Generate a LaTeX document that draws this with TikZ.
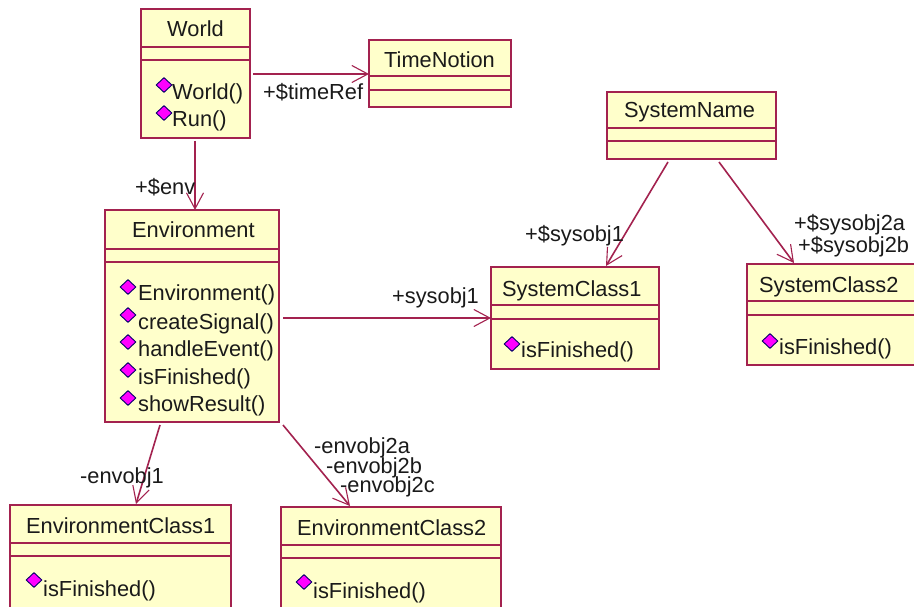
\documentclass[tikz,border=0pt]{standalone}
\usepackage{fontspec}
\setmainfont{Liberation Sans}
\usetikzlibrary{arrows.meta,shapes.geometric}
\definecolor{umlline}{HTML}{A3224F}
\definecolor{umlfill}{HTML}{FFFFCB}
\definecolor{umltext}{HTML}{1A1A1A}
\definecolor{umlicon}{HTML}{FF00FF}
\tikzset{
  umlbox/.style={draw=umlline,fill=umlfill,line width=1.9pt,rectangle,inner sep=0pt,outer sep=0pt,anchor=north west},
  divider/.style={draw=umlline,line width=1.9pt},
  assoc/.style={draw=umlline,line width=1.6pt,-{Straight Barb[length=16pt,width=17pt,line width=1.1pt]}},
  txt/.style={font=\fontsize{21.8}{24}\selectfont,text=umltext,inner sep=0pt,anchor=base west},
  method/.style={diamond,fill=umlicon,draw=black!60!blue,line width=.9pt,inner sep=0pt,minimum width=16pt,minimum height=15pt},
}
% name, x1, y1, x2, y2, divider1, divider2
\newcommand{\classbox}[7]{%
  \pgfmathsetmacro{\bw}{#4-#2}\pgfmathsetmacro{\bh}{#5-#3}%
  \node[umlbox,minimum width=\bw pt,minimum height=\bh pt] (#1) at (#2,#3) {};
  \draw[divider] (#2,#6) -- (#4,#6);
  \draw[divider] (#2,#7) -- (#4,#7);
}
\begin{document}
\begin{tikzpicture}[x=1pt,y=-1pt]
\path[use as bounding box,clip] (0,0) rectangle (914,607);
\fill[white] (0,0) rectangle (914,607);

\classbox{world}{141}{9}{250}{138}{47}{60}
\classbox{time}{369}{40}{511}{107}{76}{90}
\classbox{sysname}{607}{92}{776}{159}{128}{141}
\classbox{env}{105}{210}{279}{422}{249}{262}
\classbox{sc1}{491}{267}{659}{369}{305}{319}
\classbox{sc2}{747}{264}{925}{365}{301}{315}
\classbox{ec1}{10}{505}{231}{625}{543}{556}
\classbox{ec2}{281}{507}{501}{625}{545}{558}

% titles
\node[txt] (tworld) at (167,37) {World};
\node[txt] (ttime) at (384,68) {TimeNotion};
\node[txt] (tsys) at (624,118) {SystemName};
\node[txt] (tenv) at (132,238) {Environment};
\node[txt] (tsc1) at (502,296) {SystemClass1};
\node[txt] (tsc2) at (759,292) {SystemClass2};
\node[txt] (tec1) at (26,533) {EnvironmentClass1};
\node[txt] (tec2) at (297,535) {EnvironmentClass2};

% methods
\node[method] (d1) at (164,85) {};  \node[txt] (m1) at (172,100) {World()};
\node[method] (d2) at (164,113) {}; \node[txt] (m2) at (172,127) {Run()};
\node[method] (d3) at (128,287) {}; \node[txt] (m3) at (138,301) {Environment()};
\node[method] (d4) at (128,315) {}; \node[txt] (m4) at (138,329) {createSignal()};
\node[method] (d5) at (128,342) {}; \node[txt] (m5) at (138,356) {handleEvent()};
\node[method] (d6) at (128,370) {}; \node[txt] (m6) at (138,384) {isFinished()};
\node[method] (d7) at (128,398) {}; \node[txt] (m7) at (138,411) {showResult()};
\node[method] (d8) at (512,344) {}; \node[txt] (m8) at (521,357) {isFinished()};
\node[method] (d9) at (770,341) {}; \node[txt] (m9) at (779,354) {isFinished()};
\node[method] (d10) at (34,580) {}; \node[txt] (m10) at (43,596) {isFinished()};
\node[method] (d11) at (304,582) {}; \node[txt] (m11) at (313,598) {isFinished()};

% connectors
\draw[assoc] ([shift={(3,0.5)}]world.east) -- ([yshift=-0.5pt]time.west);
\draw[assoc] ([shift={(-0.5,3)}]world.south) -- ([xshift=-0.5pt]world.south |- env.north);
\draw[assoc] ([xshift=4pt]env.east |- sc1.west) -- (sc1.west);
\draw[assoc] ([shift={(-23.5,3)}]sysname.south) -- ([shift={(31,-1)}]sc1.north);
\draw[assoc] ([shift={(27.5,3)}]sysname.south) -- ([shift={(-42,-1)}]sc2.north);
\draw[assoc] ([shift={(-32,3)}]env.south) -- ([shift={(15.5,-1)}]ec1.north);
\draw[assoc] ([shift={(91,3)}]env.south) -- ([shift={(-41,-1)}]ec2.north);

% labels
\node[txt] (l1) at (263,100) {+\$timeRef};
\node[txt] (l2) at (135,195) {+\$env};
\node[txt] (l3) at (392,303) {+sysobj1};
\node[txt] (l4) at (525,242) {+\$sysobj1};
\node[txt] (l5) at (794,231) {+\$sysobj2a};
\node[txt] (l6) at (798,253) {+\$sysobj2b};
\node[txt] (l7) at (80,483) {-envobj1};
\node[txt] (l8) at (314,453) {-envobj2a};
\node[txt] (l9) at (326,473) {-envobj2b};
\node[txt] (l10) at (340,492) {-envobj2c};
\end{tikzpicture}
\end{document}
